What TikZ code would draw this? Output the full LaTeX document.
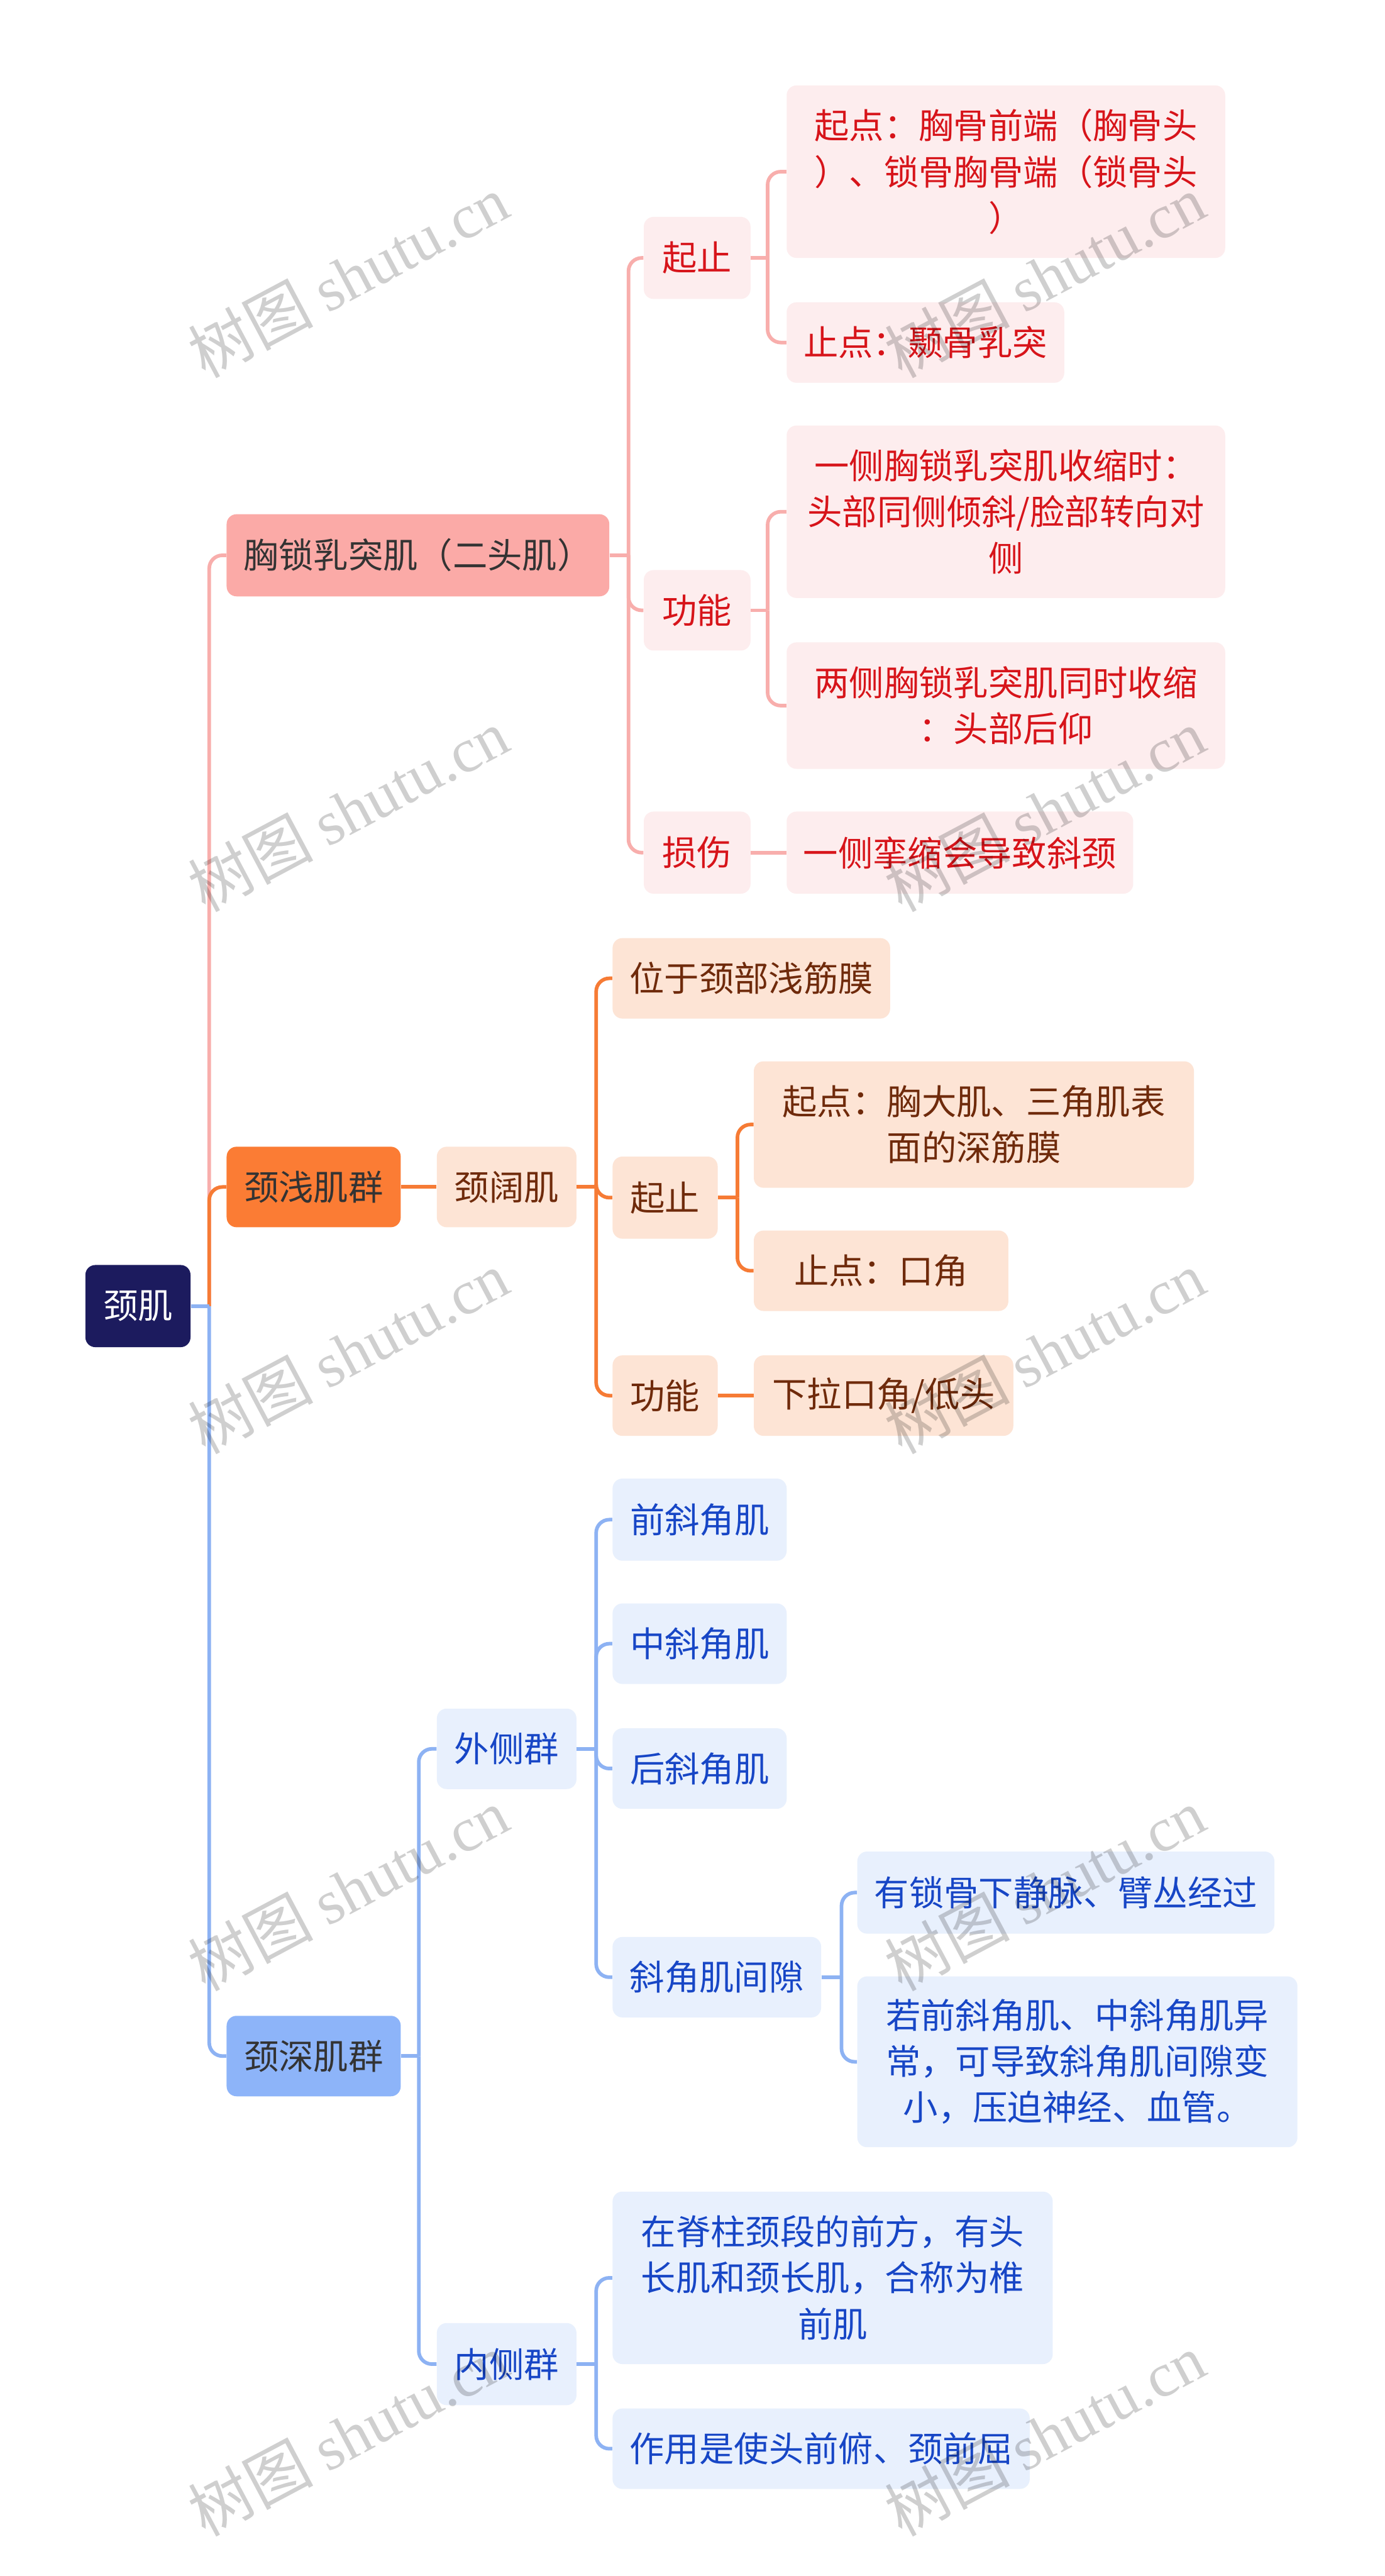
\documentclass[tikz,border=0pt]{standalone}
\usepackage{fontspec}
\setmainfont{Noto Sans CJK SC}
\newfontfamily\wmserif{Liberation Serif}
\newfontfamily\wmcjk{Noto Sans CJK SC}
\definecolor{navy}{HTML}{1C1B5E}
\definecolor{pinkA}{HTML}{FBAAA7}
\definecolor{pinkL}{HTML}{FDEDEE}
\definecolor{pinkLine}{HTML}{F8AEAC}
\definecolor{redT}{HTML}{D7141A}
\definecolor{orgA}{HTML}{FB7C34}
\definecolor{orgL}{HTML}{FDE4D5}
\definecolor{orgLine}{HTML}{F67B35}
\definecolor{brownT}{HTML}{6F2A0B}
\definecolor{bluA}{HTML}{8DB4F9}
\definecolor{bluL}{HTML}{E8F0FD}
\definecolor{bluLine}{HTML}{8DB2F3}
\definecolor{bluT}{HTML}{1746C6}
\definecolor{darkT}{HTML}{333333}
\begin{document}
\begin{tikzpicture}[x=1pt,y=-1pt,
  box/.style={rounded corners=6pt, inner sep=0pt, align=center, font=\fontsize{21.2}{28}\selectfont},
  rootbox/.style={box, fill=navy, text=white},
  pA/.style={box, fill=pinkA, text=darkT},
  pL/.style={box, fill=pinkL, text=redT},
  oA/.style={box, fill=orgA, text=darkT},
  oL/.style={box, fill=orgL, text=brownT},
  bA/.style={box, fill=bluA, text=darkT},
  bL/.style={box, fill=bluL, text=bluT},
  conn/.style={line width=2.2pt, rounded corners=8pt},
  pc/.style={conn, draw=pinkLine},
  oc/.style={conn, draw=orgLine},
  bc/.style={conn, draw=bluLine},
  wm/.style={text=black, opacity=0.19, rotate=28, inner sep=0pt}
]
\useasboundingbox (0,0) rectangle (843,1568);
\fill[white] (0,0) rectangle (843,1568);

% root
\node[rootbox, minimum width=64pt, minimum height=50pt] (R) at (84,795) {颈肌};

% level 1
\node[pA, minimum width=233pt, minimum height=50pt] (A) at (254.5,338) {胸锁乳突肌（二头肌）};
\node[oA, minimum width=106pt, minimum height=49pt] (B) at (191,722.5) {颈浅肌群};
\node[bA, minimum width=106pt, minimum height=49pt] (C) at (191,1251.5) {颈深肌群};

% pink subtree
\node[pL, minimum width=65pt, minimum height=50pt] (A1) at (424.5,157) {起止};
\node[pL, minimum width=65pt, minimum height=49pt] (A2) at (424.5,371.5) {功能};
\node[pL, minimum width=65pt, minimum height=50pt] (A3) at (424.5,519) {损伤};
\node[pL, minimum width=267pt, minimum height=105pt] (A1a) at (612.5,104.5) {起点：胸骨前端（胸骨头\\）、锁骨胸骨端（锁骨头\\）};
\node[pL, minimum width=169pt, minimum height=49pt] (A1b) at (563.5,208.5) {止点：颞骨乳突};
\node[pL, minimum width=267pt, minimum height=105pt] (A2a) at (612.5,311.5) {一侧胸锁乳突肌收缩时：\\头部同侧倾斜/脸部转向对\\侧};
\node[pL, minimum width=267pt, minimum height=77pt] (A2b) at (612.5,429.5) {两侧胸锁乳突肌同时收缩\\：头部后仰};
\node[pL, minimum width=211pt, minimum height=50pt] (A3a) at (584.5,519) {一侧挛缩会导致斜颈};

% orange subtree
\node[oL, minimum width=85pt, minimum height=49pt] (B1) at (308.5,722.5) {颈阔肌};
\node[oL, minimum width=169pt, minimum height=49pt] (B1a) at (457.5,595.5) {位于颈部浅筋膜};
\node[oL, minimum width=64pt, minimum height=50pt] (B1b) at (405,729) {起止};
\node[oL, minimum width=64pt, minimum height=49pt] (B1c) at (405,849.5) {功能};
\node[oL, minimum width=268pt, minimum height=77pt] (B1b1) at (593,684.5) {起点：胸大肌、三角肌表\\面的深筋膜};
\node[oL, minimum width=155pt, minimum height=49pt] (B1b2) at (536.5,773.5) {止点：口角};
\node[oL, minimum width=158pt, minimum height=49pt] (B1c1) at (538,849.5) {下拉口角/低头};

% blue subtree
\node[bL, minimum width=85pt, minimum height=49pt] (C1) at (308.5,1064.5) {外侧群};
\node[bL, minimum width=85pt, minimum height=50pt] (C2) at (308.5,1439) {内侧群};
\node[bL, minimum width=106pt, minimum height=50pt] (C1a) at (426,925) {前斜角肌};
\node[bL, minimum width=106pt, minimum height=49pt] (C1b) at (426,1000.5) {中斜角肌};
\node[bL, minimum width=106pt, minimum height=49pt] (C1c) at (426,1076.5) {后斜角肌};
\node[bL, minimum width=127pt, minimum height=49pt] (C1d) at (436.5,1203.5) {斜角肌间隙};
\node[bL, minimum width=254pt, minimum height=50pt] (C1d1) at (649,1152) {有锁骨下静脉、臂丛经过};
\node[bL, minimum width=268pt, minimum height=104pt] (C1d2) at (656,1255) {若前斜角肌、中斜角肌异\\常，可导致斜角肌间隙变\\小，压迫神经、血管。};
\node[bL, minimum width=268pt, minimum height=105pt] (C2a) at (507,1386.5) {在脊柱颈段的前方，有头\\长肌和颈长肌，合称为椎\\前肌};
\node[bL, minimum width=254pt, minimum height=49pt] (C2b) at (500,1490.5) {作用是使头前俯、颈前屈};

% junctions
\coordinate (jR) at (127.4,795);
\coordinate (jA) at (382.7,338);
\coordinate (jA1) at (467.4,157);
\coordinate (jA2) at (467.4,371.5);
\coordinate (jB1) at (363,722.5);
\coordinate (jB1b) at (449,729);
\coordinate (jC) at (255,1251.5);
\coordinate (jC1) at (363,1064.5);
\coordinate (jC1d) at (512.4,1203.5);
\coordinate (jC2) at (363,1439);

% root connectors
\draw[pc] (jR) |- (A.west);
\draw[oc] (jR) |- (B.west);
\draw[bc] (jR) |- (C.west);
\draw[bc] (R.east) -- (jR);

% pink connectors
\draw[pc] (A.east) -- (jA);
\draw[pc] (jA) |- (A1.west);
\draw[pc] (jA) |- (A2.west);
\draw[pc] (jA) |- (A3.west);
\draw[pc] (A1.east) -- (jA1);
\draw[pc] (jA1) |- (A1a.west);
\draw[pc] (jA1) |- (A1b.west);
\draw[pc] (A2.east) -- (jA2);
\draw[pc] (jA2) |- (A2a.west);
\draw[pc] (jA2) |- (A2b.west);
\draw[pc] (A3.east) -- (A3a.west);

% orange connectors
\draw[oc] (B.east) -- (B1.west);
\draw[oc] (B1.east) -- (jB1);
\draw[oc] (jB1) |- (B1a.west);
\draw[oc] (jB1) |- (B1b.west);
\draw[oc] (jB1) |- (B1c.west);
\draw[oc] (B1b.east) -- (jB1b);
\draw[oc] (jB1b) |- (B1b1.west);
\draw[oc] (jB1b) |- (B1b2.west);
\draw[oc] (B1c.east) -- (B1c1.west);

% blue connectors
\draw[bc] (C.east) -- (jC);
\draw[bc] (jC) |- (C1.west);
\draw[bc] (jC) |- (C2.west);
\draw[bc] (C1.east) -- (jC1);
\draw[bc] (jC1) |- (C1a.west);
\draw[bc] (jC1) |- (C1b.west);
\draw[bc] (jC1) |- (C1c.west);
\draw[bc] (jC1) |- (C1d.west);
\draw[bc] (C1d.east) -- (jC1d);
\draw[bc] (jC1d) |- (C1d1.west);
\draw[bc] (jC1d) |- (C1d2.west);
\draw[bc] (C2.east) -- (jC2);
\draw[bc] (jC2) |- (C2a.west);
\draw[bc] (jC2) |- (C2b.west);

% watermarks
\foreach \y [count=\i] in {168,493,823,1150,1482}{
  \node[wm] (wl\i) at (212,\y) {\fontsize{38}{38}\selectfont\wmcjk 树图 \wmserif shutu.cn};
  \node[wm] (wr\i) at (636,\y) {\fontsize{38}{38}\selectfont\wmcjk 树图 \wmserif shutu.cn};
}
\end{tikzpicture}
\end{document}
